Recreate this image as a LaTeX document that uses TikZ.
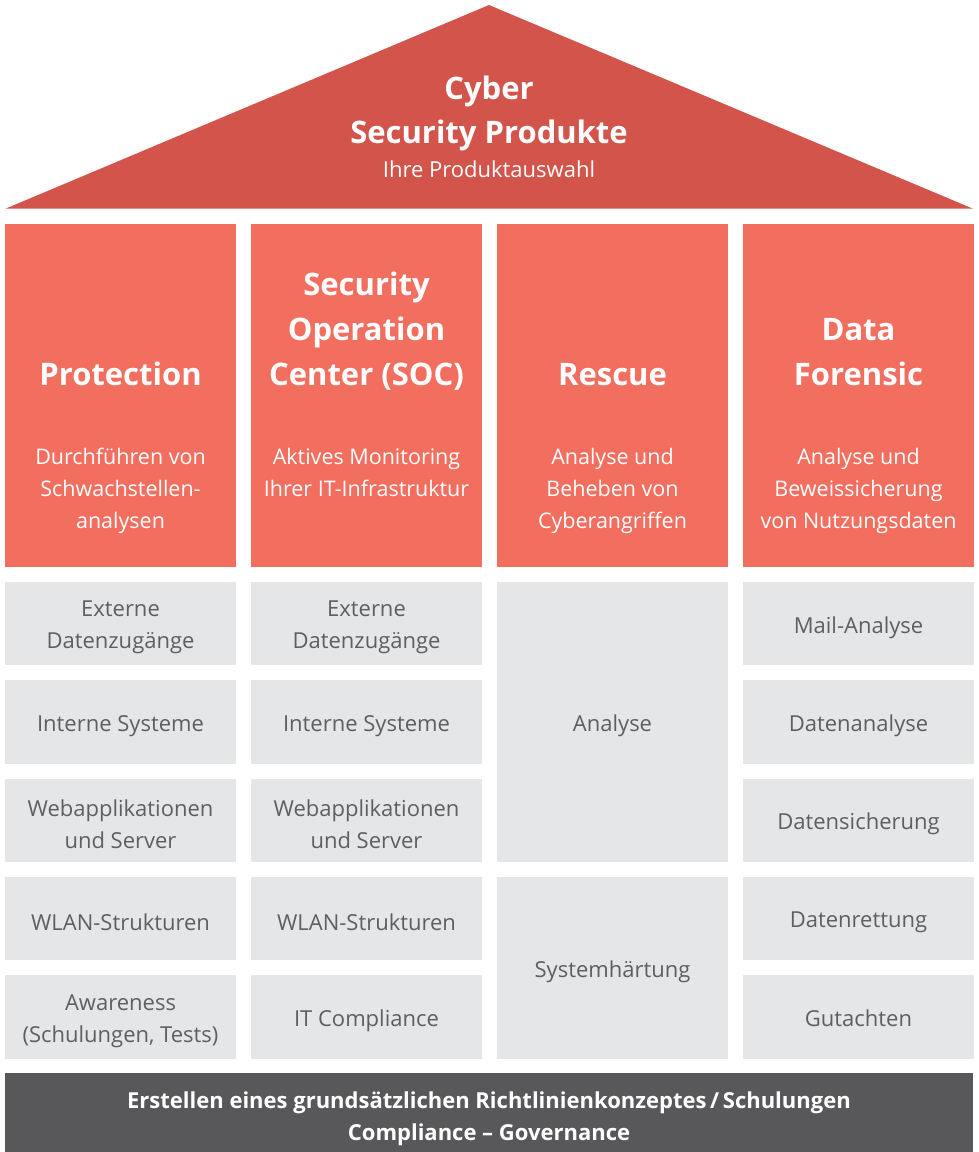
\documentclass[tikz,border=0pt]{standalone}
\usepackage{fontspec}
\setmainfont{Open Sans}
\definecolor{roofc}{HTML}{D2544B}
\definecolor{pillarc}{HTML}{F26E5F}
\definecolor{cellc}{HTML}{E5E6E8}
\definecolor{basec}{HTML}{58585A}
\definecolor{celltext}{HTML}{5E5F61}
\tikzset{
  pillarbox/.style={fill=pillarc, draw=none, inner sep=0, minimum width=231pt, minimum height=343pt},
  cellbox/.style={fill=cellc, draw=none, inner sep=0, minimum width=231pt, minimum height=83.4pt},
  celllabel/.style={text=celltext, align=center, font=\fontsize{22}{32}\selectfont, inner sep=0, yshift=-4pt},
  titlelabel/.style={text=white, align=center, font=\fontsize{31}{45}\selectfont\bfseries, inner sep=0, anchor=base},
  desclabel/.style={text=white, align=center, font=\fontsize{21.5}{32}\selectfont, inner sep=0, anchor=base},
}
\begin{document}
\begin{tikzpicture}[x=1pt,y=-1pt]
\useasboundingbox (0,0) rectangle (978,1152);
% roof
\path[fill=roofc] (5.5,208.7) -- (489,5) -- (973,208.7) -- cycle;
\node[text=white, font=\fontsize{31}{44}\selectfont\bfseries, anchor=base, inner sep=0] (roofA) at (489,99) {Cyber};
\node[text=white, font=\fontsize{31}{44}\selectfont\bfseries, anchor=base, inner sep=0] (roofB) at (489,143) {Security Produkte};
\node[text=white, font=\fontsize{22}{30}\selectfont, anchor=base, inner sep=0] (roofC) at (489,177.5) {Ihre Produktauswahl};
% pillars
\node[pillarbox] (p1) at (120.5,395.2) {};
\node[pillarbox] (p2) at (366.5,395.2) {};
\node[pillarbox] (p3) at (612.5,395.2) {};
\node[pillarbox] (p4) at (858.5,395.2) {};
\node[titlelabel] (t1) at (120.5,385) {Protection};
\node[titlelabel] (t2) at (366.5,385) {Security\\Operation\\Center (SOC)};
\node[titlelabel] (t3) at (612.5,385) {Rescue};
\node[titlelabel] (t4) at (858.5,385) {Data\\Forensic};
\node[desclabel] (d1) at (120.5,528) {Durchführen von\\Schwachstellen-\\analysen};
\node[desclabel] (d2) at (366.5,496) {Aktives Monitoring\\Ihrer IT-Infrastruktur};
\node[desclabel] (d3) at (612.5,528) {Analyse und\\Beheben von\\Cyberangriffen};
\node[desclabel] (d4) at (858.5,528) {Analyse und\\Beweissicherung\\von Nutzungsdaten};
% column 1
\node[cellbox] (a1) at (120.5,623.4) {};
\node[cellbox] (a2) at (120.5,721.8) {};
\node[cellbox] (a3) at (120.5,820.2) {};
\node[cellbox] (a4) at (120.5,918.6) {};
\node[cellbox] (a5) at (120.5,1017.0) {};
\node[celllabel] (la1) at (a1) {Externe\\Datenzugänge};
\node[celllabel] (la2) at (a2) {Interne Systeme};
\node[celllabel] (la3) at (a3) {Webapplikationen\\und Server};
\node[celllabel] (la4) at (a4) {WLAN-Strukturen};
\node[celllabel] (la5) at (a5) {Awareness\\(Schulungen, Tests)};
% column 2
\node[cellbox] (b1) at (366.5,623.4) {};
\node[cellbox] (b2) at (366.5,721.8) {};
\node[cellbox] (b3) at (366.5,820.2) {};
\node[cellbox] (b4) at (366.5,918.6) {};
\node[cellbox] (b5) at (366.5,1017.0) {};
\node[celllabel] (lb1) at (b1) {Externe\\Datenzugänge};
\node[celllabel] (lb2) at (b2) {Interne Systeme};
\node[celllabel] (lb3) at (b3) {Webapplikationen\\und Server};
\node[celllabel] (lb4) at (b4) {WLAN-Strukturen};
\node[celllabel] (lb5) at (b5) {IT Compliance};
% column 3
\node[cellbox, minimum height=280.2pt] (c1) at (612.5,721.8) {};
\node[cellbox, minimum height=182.2pt] (c2) at (612.5,967.8) {};
\node[celllabel] (lc1) at (c1) {Analyse};
\node[celllabel] (lc2) at (c2) {Systemhärtung};
% column 4
\node[cellbox] (e1) at (858.5,623.4) {};
\node[cellbox] (e2) at (858.5,721.8) {};
\node[cellbox] (e3) at (858.5,820.2) {};
\node[cellbox] (e4) at (858.5,918.6) {};
\node[cellbox] (e5) at (858.5,1017.0) {};
\node[celllabel] (le1) at (e1) {Mail-Analyse};
\node[celllabel] (le2) at (e2) {Datenanalyse};
\node[celllabel] (le3) at (e3) {Datensicherung};
\node[celllabel] (le4) at (e4) {Datenrettung};
\node[celllabel] (le5) at (e5) {Gutachten\vphantom{g}};
% base
\node[fill=basec, draw=none, inner sep=0, minimum width=968pt, minimum height=80pt] (base) at (489,1112.7) {};
\node[text=white, align=center, font=\fontsize{22}{32}\selectfont\bfseries, inner sep=0] (basetext) at (489,1119) {Erstellen eines grundsätzlichen Richtlinienkonzeptes\,/\,Schulungen\\Compliance -- Governance};
\end{tikzpicture}
\end{document}
